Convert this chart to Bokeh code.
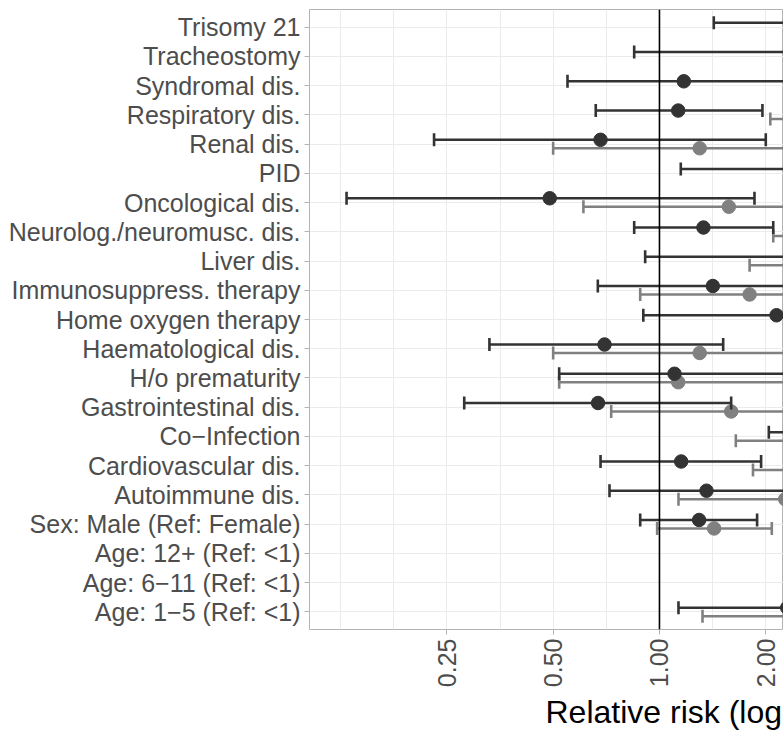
import math
from bokeh.plotting import figure
from bokeh.models import FixedTicker, CustomJSTickFormatter, Span, ColumnDataSource, Range1d, Title
from bokeh.embed import file_html
from bokeh.resources import INLINE

# ---- data (top to bottom as shown) ----
categories = [
    "Trisomy 21", "Tracheostomy", "Syndromal dis.", "Respiratory dis.", "Renal dis.",
    "PID", "Oncological dis.", "Neurolog./neuromusc. dis.", "Liver dis.",
    "Immunosuppress. therapy", "Home oxygen therapy", "Haematological dis.",
    "H/o prematurity", "Gastrointestinal dis.", "Co\u2212Infection",
    "Cardiovascular dis.", "Autoimmune dis.", "Sex: Male (Ref: Female)",
    "Age: 12+ (Ref: <1)", "Age: 6\u221211 (Ref: <1)", "Age: 1\u22125 (Ref: <1)",
]

# dark series (estimate, lower, upper)
dark_est = [2.9, 3.2, 1.172, 1.13, 0.681, 3.0, 0.489, 1.332, 2.6, 1.416, 2.145,
            0.699, 1.103, 0.67, 3.0, 1.152, 1.359, 1.295, 3.5, 3.2, 2.30]
dark_lo = [1.425, 0.848, 0.549, 0.66, 0.23, 1.149, 0.13, 0.848, 0.911, 0.669, 0.90,
           0.33, 0.52, 0.28, 2.04, 0.681, 0.722, 0.882, 2.5, 2.3, 1.132]
dark_hi = [6.0, 12.0, 2.6, 1.957, 2.0, 8.0, 1.858, 2.10, 7.0, 3.0, 5.0,
           1.515, 2.35, 1.596, 4.4, 1.94, 2.6, 1.89, 5.0, 4.5, 4.4]

# grey series (estimate, lower, upper)
grey_est = [4.0, 4.2, 3.6, 2.9, 1.30, 3.8, 1.572, 2.8, 3.0, 1.80, 4.3,
            1.30, 1.13, 1.596, 2.5, 2.6, 2.27, 1.428, 3.6, 3.3, 2.5]
grey_lo = [2.6, 2.5, 2.4, 2.06, 0.50, 2.5, 0.609, 2.10, 1.80, 0.882, 2.7,
           0.50, 0.52, 0.730, 1.645, 1.84, 1.132, 0.985, 2.6, 2.4, 1.324]
grey_hi = [6.5, 7.0, 5.5, 4.1, 3.4, 5.8, 4.0, 3.7, 5.0, 3.7, 6.8,
           3.4, 2.5, 3.5, 3.8, 3.7, 4.5, 2.08, 5.0, 4.6, 4.6]

x_ticks = [0.25, 0.5, 1.0, 2.0, 4.0, 8.0, 16.0]
ref_value = 1.0
x_title = "Relative risk (log"

DARK = "#333333"
GREY = "#808080"
GRID = "#ebebeb"
FONT = "Liberation Sans"

n = len(categories)
ypos = [n - i for i in range(n)]
dodge = 0.145

# minor grid: midpoints (in log space) between major breaks, plus one below
ext = [x_ticks[0] / 2] + x_ticks
x_minor = [ext[0]] + [math.sqrt(a * b) for a, b in zip(ext[:-1], ext[1:])]

p = figure(width=783, height=733, x_axis_type="log",
           x_range=Range1d(0.1021, 2.245), y_range=Range1d(0.4, n + 0.6),
           output_backend="svg", toolbar_location=None,
           min_border_left=309, min_border_right=0, min_border_top=9,
           min_border_bottom=104)
p.background_fill_color = "white"
p.border_fill_color = "white"
p.outline_line_color = "#b3b3b3"
p.outline_line_width = 1

# axes
p.xaxis.ticker = FixedTicker(ticks=x_ticks, minor_ticks=x_minor)
p.xaxis.formatter = CustomJSTickFormatter(code="return tick.toFixed(2);")
p.xaxis.major_label_orientation = math.pi / 2
p.yaxis.ticker = FixedTicker(ticks=ypos)
p.yaxis.major_label_overrides = {y: c for y, c in zip(ypos, categories)}
for ax in (p.xaxis, p.yaxis):
    ax.axis_line_color = None
    ax.major_tick_line_color = "#b3b3b3"
    ax.major_tick_out = 5
    ax.major_tick_in = 0
    ax.minor_tick_line_color = None
    ax.major_label_text_font = FONT
    ax.major_label_text_font_size = "25px"
    ax.major_label_text_color = "#4d4d4d"
p.yaxis.major_label_standoff = 4
p.xaxis.major_label_standoff = 4

p.add_layout(Title(text=x_title, align="left", offset=236, standoff=2,
                   text_font=FONT, text_font_size="32px",
                   text_font_style="normal", text_color="black"), "below")

# grid
p.xgrid.grid_line_color = GRID
p.xgrid.minor_grid_line_color = GRID
p.xgrid.grid_line_width = 1
p.xgrid.minor_grid_line_width = 1
p.ygrid.grid_line_color = GRID
p.ygrid.grid_line_width = 1

p.add_layout(Span(location=ref_value, dimension="height", line_color="black", line_width=1.6))

def series(est, lo, hi, offset, color):
    src = ColumnDataSource(dict(
        y=[v + offset for v in ypos], est=est, lo=lo, hi=hi))
    p.segment(x0="lo", x1="hi", y0="y", y1="y", source=src,
              line_color=color, line_width=2.6)
    p.scatter(x="lo", y="y", source=src, marker="dash", angle=math.pi / 2,
              size=13, line_color=color, line_width=2.6)
    p.scatter(x="hi", y="y", source=src, marker="dash", angle=math.pi / 2,
              size=13, line_color=color, line_width=2.6)
    p.scatter(x="est", y="y", source=src, marker="circle", size=13.5,
              fill_color=color, line_color=color)

series(grey_est, grey_lo, grey_hi, -dodge, GREY)
series(dark_est, dark_lo, dark_hi, dodge, DARK)

open("out.html", "w").write(file_html(p, INLINE))
